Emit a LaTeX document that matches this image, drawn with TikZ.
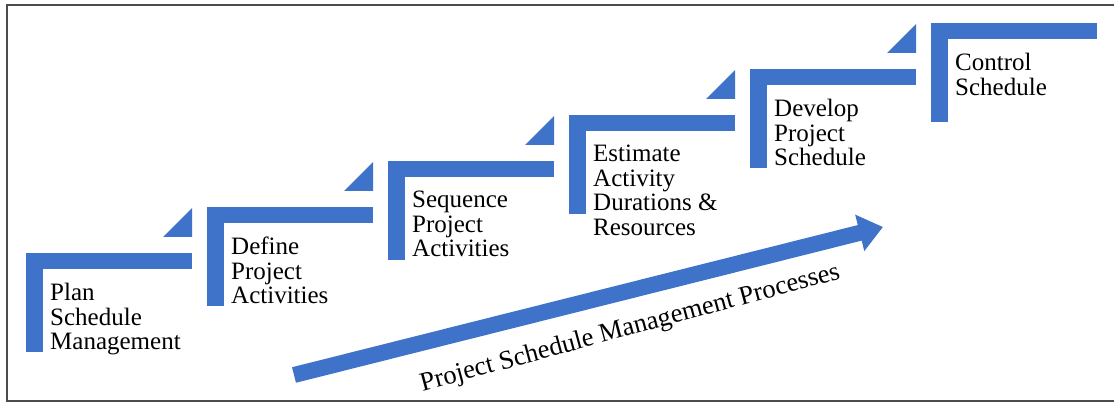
\documentclass[tikz,border=0pt]{standalone}
\usepackage{fontspec}
\setmainfont{Liberation Serif}
\usetikzlibrary{arrows.meta, calc}
\definecolor{stepblue}{RGB}{63,114,201}
\tikzset{>=stealth,
    stepbar/.style={fill=stepblue},
    steptext/.style={anchor=north west, align=left, inner sep=0pt, font=\fontsize{25}{24.5}\selectfont}}

\begin{document}
\begin{tikzpicture}[x=1pt, y=-1pt]
    \useasboundingbox (0,0) rectangle (1114,403);
    \draw[line width=1.5pt, black!70] (1114,5) -- (7,5) -- (7,401) -- (1114,401);
    \foreach \lbl [count=\i from 0] in {{Plan\\Schedule\\Management}, {Define\\Project\\Activities}, {Sequence\\Project\\Activities}, {Estimate\\Activity\\Durations \&\\Resources}, {Develop\\Project\\Schedule}, {Control\\Schedule}} {
        \coordinate (s\i) at (26+181*\i, 253-46*\i);
        \fill[stepbar] (s\i) rectangle ++(166,16);
        \fill[stepbar] (s\i) rectangle ++(17,99);
        \node[steptext] (t\i) at ($(s\i)+(24,30)$) {\lbl};
    }
    \foreach \i in {0,...,4}
        \fill[stepbar] ($(s\i)+(137,-16)$) -- ++(29,0) -- ++(0,-29) -- cycle;
    \coordinate (tail) at (294,375);
    \coordinate (tip) at (883,227);
    \draw[stepblue, line width=16pt, -{Triangle[width=36pt, length=24pt]}] (tail) -- (tip)
        node[pos=0.555, sloped, below=17pt, rotate=1, inner sep=0pt, text=black, font=\fontsize{26.5}{26.5}\selectfont] (title) {Project Schedule Management Processes};
\end{tikzpicture}
\end{document}
